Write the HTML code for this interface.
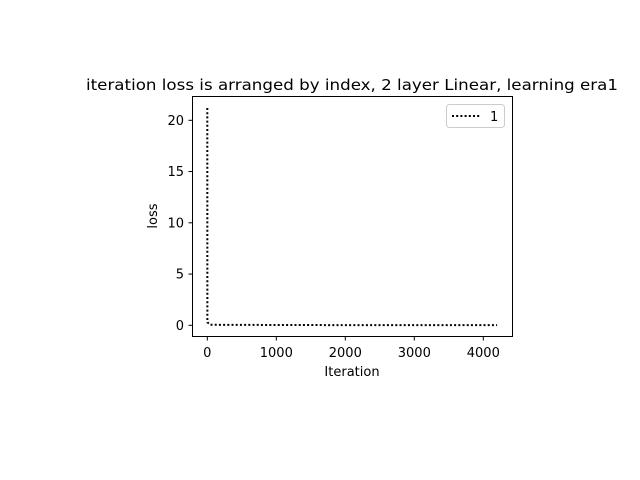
<!DOCTYPE html>
<html><head><meta charset="utf-8"><style>
body{margin:0;background:#fff;}
svg{display:block;font-family:"DejaVu Sans","Liberation Sans",sans-serif;}
</style></head><body>
<svg id="chart" width="640" height="480" viewBox="0 0 640 480">
<rect width="640" height="480" fill="#fff"/>
<text x="352" y="90" font-size="15.5" text-anchor="middle" textLength="532" lengthAdjust="spacingAndGlyphs">iteration loss is arranged by index, 2 layer Linear, learning era1</text>
<g id="ticks"></g>
<polyline id="series" fill="none" stroke="#000" stroke-width="2" stroke-dasharray="2,2.2"/>
<rect x="192.5" y="96.5" width="320" height="240" fill="none" stroke="#000" stroke-width="1"/>
<text x="352" y="376" font-size="13" text-anchor="middle">Iteration</text>
<text transform="translate(157,216) rotate(-90)" font-size="13" text-anchor="middle">loss</text>
<g>
<rect x="446.5" y="104.5" width="58" height="23" rx="3" fill="#fff" stroke="#ccc"/>
<line x1="452" y1="116" x2="480" y2="116" stroke="#000" stroke-width="2" stroke-dasharray="2,2.2"/>
<text x="490" y="121" font-size="13">1</text>
</g>
</svg>
<script>
const iterations = [0, 1, 40, 1000, 2000, 3000, 4200];
const lossValues = [21.2, 0.3, 0.05, 0.03, 0.02, 0.02, 0.02];
const xTicks = [0, 1000, 2000, 3000, 4000];
const yTicks = [0, 5, 10, 15, 20];
const xs = v => 207.3 + v * 0.069;
const ys = v => 325.3 - v * 10.25;
const NS = "http://www.w3.org/2000/svg";
const g = document.getElementById("ticks");
xTicks.forEach(t => {
  const l = document.createElementNS(NS, "line");
  l.setAttribute("x1", xs(t)); l.setAttribute("x2", xs(t));
  l.setAttribute("y1", 337); l.setAttribute("y2", 340.5);
  l.setAttribute("stroke", "#000");
  
  
  g.appendChild(l);
  const tx = document.createElementNS(NS, "text");
  tx.setAttribute("x", xs(t)); tx.setAttribute("y", 357);
  tx.setAttribute("font-size", "13"); tx.setAttribute("text-anchor", "middle");
  tx.textContent = t;
  
  
  g.appendChild(tx);
});
yTicks.forEach(t => {
  const l = document.createElementNS(NS, "line");
  l.setAttribute("x1", 188.5); l.setAttribute("x2", 192);
  l.setAttribute("y1", ys(t)); l.setAttribute("y2", ys(t));
  l.setAttribute("stroke", "#000");
  
  
  g.appendChild(l);
  const tx = document.createElementNS(NS, "text");
  tx.setAttribute("x", 184); tx.setAttribute("y", ys(t) + 4.5);
  tx.setAttribute("font-size", "13"); tx.setAttribute("text-anchor", "end");
  tx.textContent = t;
  
  
  g.appendChild(tx);
});
document.getElementById("series").setAttribute("points",
  iterations.map((it, i) => xs(it).toFixed(2) + "," + ys(lossValues[i]).toFixed(2)).join(" "));
</script>
</body></html>
